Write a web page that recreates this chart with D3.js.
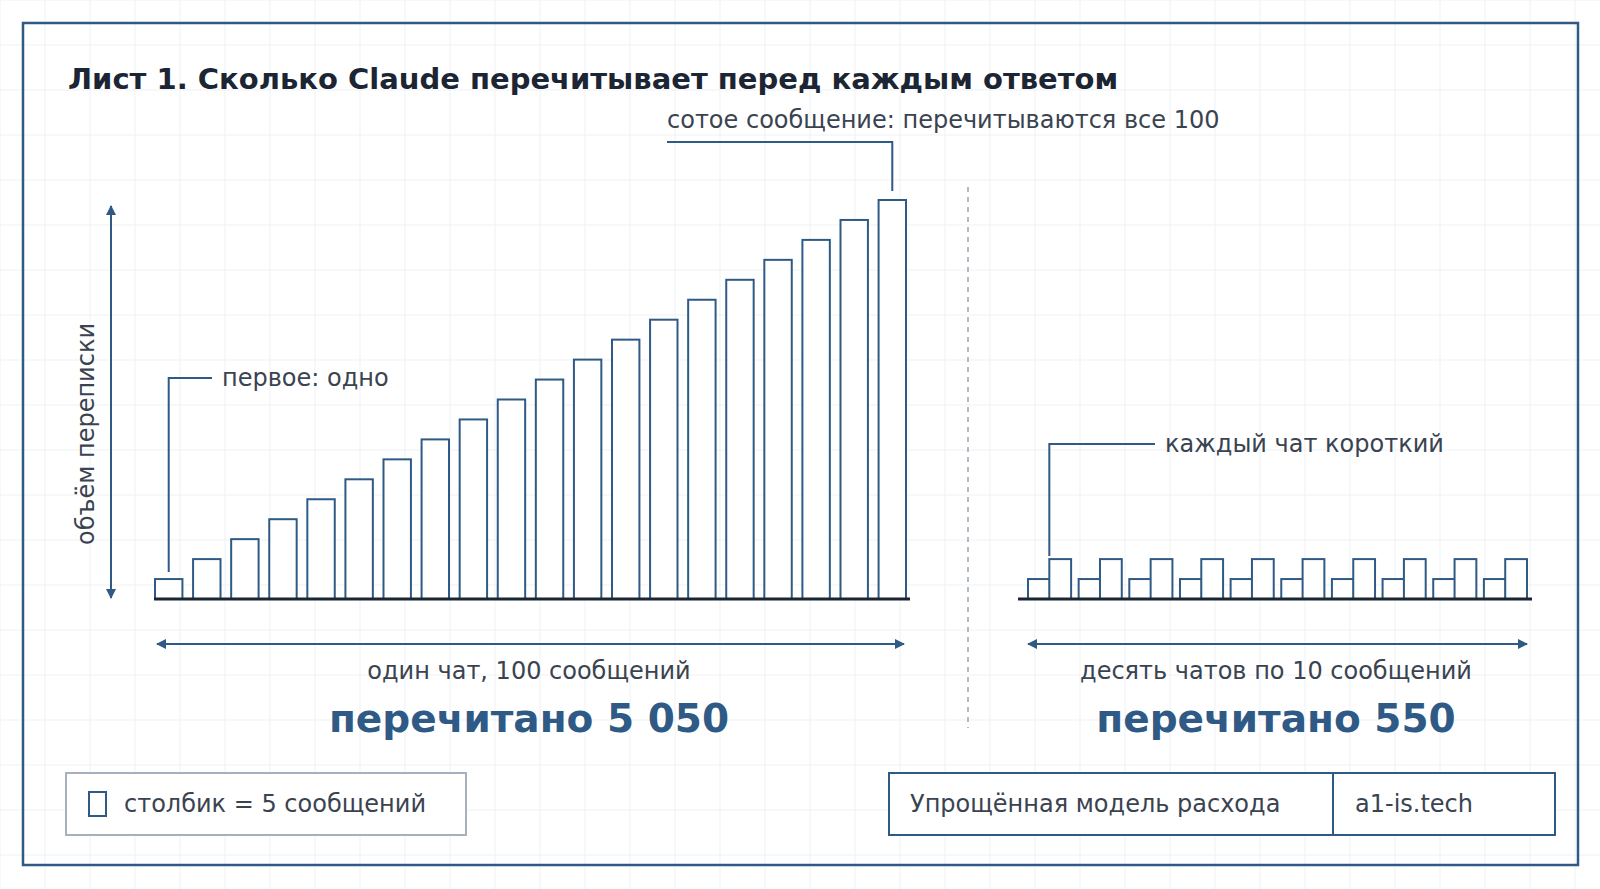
<!DOCTYPE html>
<html><head><meta charset="utf-8">
<script src="https://cdn.jsdelivr.net/npm/d3@7"></script>
<style>body{margin:0;background:#fff}svg{display:block;font-family:"DejaVu Sans",sans-serif}</style>
</head><body><svg id="c" width="1600" height="889"></svg>
<script>
// one chat: 20 columns, each = 5 messages, height = units reread
var oneChat = [1,2,3,4,5,6,7,8,9,10,11,12,13,14,15,16,17,18,19,20];
// ten chats of 10 messages: 2 columns each
var tenChats = [1,2,1,2,1,2,1,2,1,2,1,2,1,2,1,2,1,2,1,2];
var totals = ["перечитано 5 050", "перечитано 550"];
var captions = ["один чат, 100 сообщений", "десять чатов по 10 сообщений"];

var blue = "#2f5a85", ink = "#1c2533", txt = "#3a4350";
var svg = d3.select("#c");
var defs = svg.append("defs");
defs.append("marker").attr("id","ar").attr("viewBox","0 0 10 10").attr("refX",9).attr("refY",5)
  .attr("markerWidth",5).attr("markerHeight",5).attr("orient","auto-start-reverse")
  .append("path").attr("d","M0,0L10,5L0,10z").attr("fill",blue);

// grid
var g = svg.append("g");
d3.range(0,1600,45).forEach(function(x){g.append("line").attr("x1",x).attr("x2",x).attr("y1",0).attr("y2",889).attr("stroke","#eef1f4");});
d3.range(0,889,45).forEach(function(y){g.append("line").attr("y1",y).attr("y2",y).attr("x1",0).attr("x2",1600).attr("stroke","#eef1f4");});
svg.append("rect").attr("x",23).attr("y",23).attr("width",1555).attr("height",842).attr("fill","none").attr("stroke",blue).attr("stroke-width",2.5);

svg.append("text").attr("x",68).attr("y",89).attr("font-size",29).attr("font-weight","bold").attr("fill",ink)
  .text("Лист 1. Сколько Claude перечитывает перед каждым ответом");

var base = 599;
var y = d3.scaleLinear().domain([0,20]).range([base,200]);

// left chart
var xL = d3.scaleBand().domain(d3.range(oneChat.length)).range([155,906]).paddingInner(0.28).paddingOuter(0);
svg.append("g").selectAll("rect").data(oneChat).join("rect")
  .attr("x",(d,i)=>xL(i)).attr("width",xL.bandwidth()).attr("y",d=>y(d)).attr("height",d=>base-y(d))
  .attr("fill","#fff").attr("stroke",blue).attr("stroke-width",2);
svg.append("line").attr("x1",154).attr("x2",910).attr("y1",base).attr("y2",base).attr("stroke",ink).attr("stroke-width",3);

// right chart
var xR = d3.scaleBand().domain(d3.range(tenChats.length)).range([1026,1529]).paddingInner(0.14).paddingOuter(0);
svg.append("g").selectAll("rect").data(tenChats).join("rect")
  .attr("x",(d,i)=>xR(i)+(i%2?-2:2)).attr("width",xR.bandwidth()).attr("y",d=>y(d)).attr("height",d=>base-y(d))
  .attr("fill","#fff").attr("stroke",blue).attr("stroke-width",2);
svg.append("line").attr("x1",1018).attr("x2",1532).attr("y1",base).attr("y2",base).attr("stroke",ink).attr("stroke-width",3);

// y arrow
svg.append("line").attr("x1",111).attr("x2",111).attr("y1",206).attr("y2",598).attr("stroke",blue).attr("stroke-width",2)
  .attr("marker-start","url(#ar)").attr("marker-end","url(#ar)");
svg.append("text").attr("transform","translate(94,434) rotate(-90)").attr("text-anchor","middle")
  .attr("font-size",24).attr("fill",txt).text("объём переписки");

// separator
svg.append("line").attr("x1",968).attr("x2",968).attr("y1",187).attr("y2",728).attr("stroke","#9aa3ad")
  .attr("stroke-width",1.5).attr("stroke-dasharray","5,5");

// bottom arrows and labels
[[157,904,529],[1028,1527,1276]].forEach(function(a,i){
  svg.append("line").attr("x1",a[0]).attr("x2",a[1]).attr("y1",644).attr("y2",644).attr("stroke",blue).attr("stroke-width",2)
    .attr("marker-start","url(#ar)").attr("marker-end","url(#ar)");
  svg.append("text").attr("x",a[2]).attr("y",679).attr("text-anchor","middle").attr("font-size",24).attr("fill",txt).text(captions[i]);
  svg.append("text").attr("x",a[2]).attr("y",732).attr("text-anchor","middle").attr("font-size",39).attr("font-weight","bold").attr("fill",blue).text(totals[i]);
});

// annotations
function note(pts, tx, ty, s){
  svg.append("path").attr("d",d3.line()(pts)).attr("fill","none").attr("stroke",blue).attr("stroke-width",2);
  svg.append("text").attr("x",tx).attr("y",ty).attr("font-size",24).attr("fill",txt).text(s);
}
var c20 = xL(19)+xL.bandwidth()/2, c1 = xL(0)+xL.bandwidth()/2;
note([[667,142],[c20,142],[c20,191]], 667, 128, "сотое сообщение: перечитываются все 100");
note([[c1,572],[c1,378],[212,378]], 222, 386, "первое: одно");
var t1 = xR(1)-2;
note([[t1,556],[t1,444],[1155,444]], 1165, 452, "каждый чат короткий");

// legend boxes
svg.append("rect").attr("x",66).attr("y",773).attr("width",400).attr("height",62).attr("fill","#fff").attr("stroke","#a7b1bd").attr("stroke-width",2);
svg.append("rect").attr("x",89).attr("y",792).attr("width",17).attr("height",24).attr("fill","#fff").attr("stroke",blue).attr("stroke-width",2);
svg.append("text").attr("x",124).attr("y",812).attr("font-size",24).attr("fill",txt).text("столбик = 5 сообщений");

svg.append("rect").attr("x",889).attr("y",773).attr("width",666).attr("height",62).attr("fill","#fff").attr("stroke",blue).attr("stroke-width",2);
svg.append("line").attr("x1",1333).attr("x2",1333).attr("y1",773).attr("y2",835).attr("stroke",blue).attr("stroke-width",2);
svg.append("text").attr("x",910).attr("y",812).attr("font-size",24).attr("fill",txt).text("Упрощённая модель расхода");
svg.append("text").attr("x",1355).attr("y",812).attr("font-size",24).attr("fill",txt).text("a1-is.tech");
</script></body></html>
